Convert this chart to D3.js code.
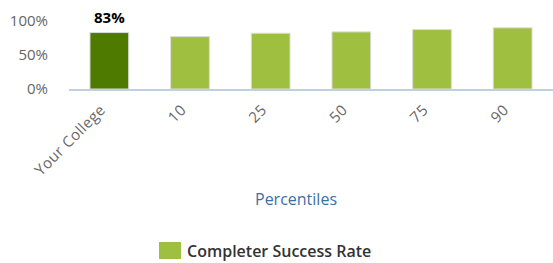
<html>
<head>
<style>
  body { margin: 0; background: #fff; }
  text { font-family: "Open Sans", sans-serif; }
</style>
</head>
<body>
<svg class="chart" width="553" height="263"></svg>
<script src="https://d3js.org/d3.v7.min.js"></script>
<script>
var categories = ["Your College", "10", "25", "50", "75", "90"];
var values = [0.83, 0.77, 0.82, 0.84, 0.875, 0.90];
var yTicks = [0, 0.5, 1];
var seriesName = "Completer Success Rate";

var margin = {left: 69, right: 0, top: 21, bottom: 174};
var width = 553, height = 263;

var chart = d3.select('.chart');

var x = d3.scaleBand().domain(categories)
    .range([margin.left, width - margin.right]).paddingInner(0.52).paddingOuter(0.26);
var y = d3.scaleLinear().domain([0, 1]).range([89, 21]);

// y labels
chart.selectAll('.ylab').data(yTicks).enter().append('text')
    .attr('x', 48).attr('y', function(d) { return y(d); })
    .attr('dy', '0.35em')
    .attr('text-anchor', 'end')
    .style('font-size', '15px').style('fill', '#666')
    .text(function(d) { return d3.format('.0%')(d); });

// bars
chart.selectAll('.bar').data(values).enter().append('rect')
    .attr('x', function(d, i) { return x(categories[i]); })
    .attr('y', function(d) { return y(d); })
    .attr('width', x.bandwidth())
    .attr('height', function(d) { return y(0) - y(d); })
    .style('fill', function(d, i) { return i === 0 ? '#4e7a00' : '#9ebf3f'; })
    .style('stroke', '#dcdcdc').style('stroke-width', 1);

// x axis line
chart.append('line')
    .attr('x1', margin.left).attr('x2', width)
    .attr('y1', y(0) + 1).attr('y2', y(0) + 1)
    .style('stroke', '#c0d0e0').style('stroke-width', 2);

// value label
chart.append('text')
    .attr('x', x(categories[0]) + x.bandwidth() / 2)
    .attr('y', y(values[0]) - 10)
    .attr('text-anchor', 'middle')
    .style('font-size', '15px').style('font-weight', 'bold').style('fill', '#000')
    .text(d3.format('.0%')(values[0]));

// x labels
chart.selectAll('.xlab').data(categories).enter().append('text')
    .attr('transform', function(d) {
        return 'translate(' + (x(d) + x.bandwidth() / 2 - 3) + ',' + 111 + ') rotate(-45)';
    })
    .attr('text-anchor', 'end')
    .style('font-size', '15px').style('letter-spacing', '0.4px').style('fill', '#666')
    .text(function(d) { return d; });

chart.append('text')
    .attr('x', 296).attr('y', 205)
    .attr('text-anchor', 'middle')
    .style('font-size', '16px').style('fill', '#3d6fa5')
    .text('Percentiles');

// legend
chart.append('rect')
    .attr('x', 159).attr('y', 242).attr('width', 22).attr('height', 17)
    .style('fill', '#9ebf3f');
chart.append('text')
    .attr('x', 187).attr('y', 257)
    .style('font-size', '16px').style('font-weight', '600').style('fill', '#333')
    .text(seriesName);
</script>
</body>
</html>
